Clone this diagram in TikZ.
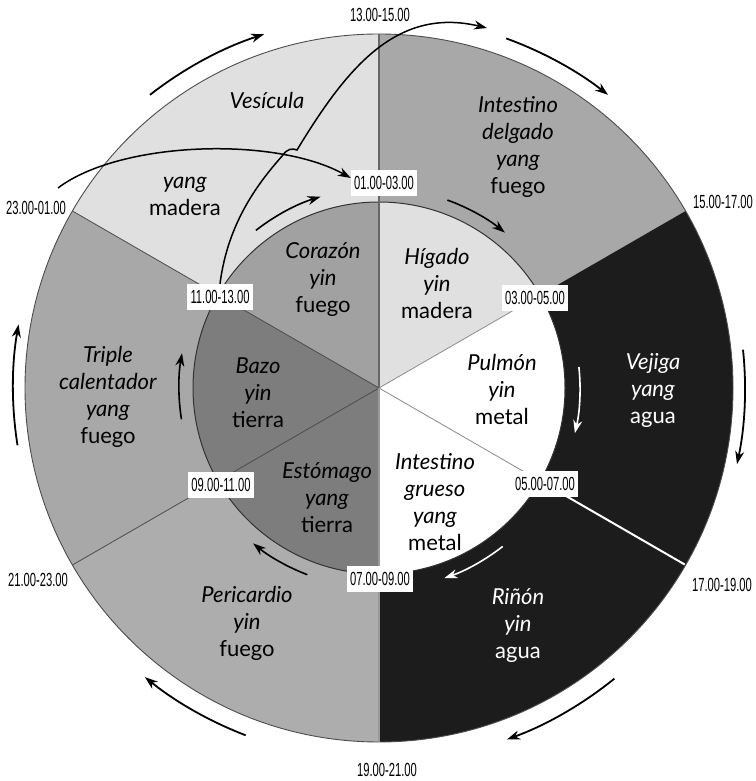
\documentclass[tikz,border=0pt]{standalone}
\usepackage{fontspec}
\setmainfont{Lato}
\newfontfamily\hourfont[FakeStretch=0.59]{Liberation Sans}
\usetikzlibrary{arrows.meta}
\definecolor{palegray}{gray}{0.88}
\definecolor{midgray}{gray}{0.66}
\definecolor{firegray}{gray}{0.68}
\definecolor{heartgray}{gray}{0.63}
\definecolor{earthgray}{gray}{0.49}
\definecolor{watergray}{gray}{0.11}

\begin{document}
\begin{tikzpicture}[
  x=1pt,y=1pt,
  organ/.style={align=center,inner sep=0pt,font=\fontsize{22}{27}\selectfont},
  organw/.style={organ,text=white},
  hour/.style={inner sep=0pt,font=\hourfont\fontsize{19}{19}\selectfont},
  hourbox/.style={hour,fill=white,minimum width=66pt,minimum height=26pt},
  divider/.style={draw=black!70,line width=0.8pt},
  cycle/.style={-{Stealth[length=13pt,width=9pt]},line width=1.8pt},
  cyclew/.style={cycle,draw=white},
  link/.style={-{Stealth[length=13pt,width=9pt]},line width=1.5pt},
]
\fill[white] (0,0) rectangle (755,781);
\useasboundingbox (0,0) rectangle (755,781);
\coordinate (C) at (379,393);

% ---- outer ring ----
\foreach \a/\col in {90/palegray,30/midgray,-30/watergray,-90/watergray,210/firegray,150/midgray}
  \fill[\col] (C) -- ([shift={(\a:354)}]C) arc[start angle=\a,delta angle=60,radius=354] -- cycle;
\draw[black!70,line width=0.9pt] (C) circle[radius=354];

% ---- inner disk ----
\foreach \a/\col in {90/heartgray,30/palegray,-30/white,-90/white,210/earthgray,150/earthgray}
  \fill[\col] (C) -- ([shift={(\a:186)}]C) arc[start angle=\a,delta angle=60,radius=186] -- cycle;
\draw[black!80,line width=1pt] (C) circle[radius=186];

% ---- dividers ----
\draw[divider,draw=black!60,line width=1.3pt] (C) -- ([shift={(90:354)}]C);
\draw[divider] (C) -- ([shift={(150:354)}]C);
\draw[divider] (C) -- ([shift={(210:354)}]C);
\draw[divider,draw=black!40,line width=1.6pt] (C) -- ([shift={(270:354)}]C);
\draw[divider,draw=black!45] (C) -- ([shift={(30:186)}]C);
\draw[divider,draw=black!45] (C) -- ([shift={(-30:186)}]C);
\draw[white,line width=2pt] ([shift={(-30:187)}]C) -- ([shift={(-30:353)}]C);

% ---- flow arrows ----
\foreach \s/\e in {128/108,70/52,249/231}
  \draw[cycle] ([shift={(\s:372)}]C) arc[start angle=\s,end angle=\e,radius=372];
\foreach \s/\e in {6/-12,189/170}
  \draw[cycle] ([shift={(\s:366)}]C) arc[start angle=\s,end angle=\e,radius=366];
\draw[cycle] ([shift={(-51:374)}]C) arc[start angle=-51,end angle=-70,radius=374];
\foreach \s/\e in {128/107,70/51,249/231,189/170}
  \draw[cycle,line width=1.6pt] ([shift={(\s:200)}]C) arc[start angle=\s,end angle=\e,radius=200];
\foreach \s/\e in {6/-13,-52/-71}
  \draw[cyclew,line width=1.6pt] ([shift={(\s:201)}]C) arc[start angle=\s,end angle=\e,radius=201];

% ---- organs ----
\node[organ] (vesicula) at (267,681) {\textit{Vesícula}};
\node[organ] (vesmadera) at (185,585) {\textit{yang}\\madera};
\node[organ] (delgado) at (518,634) {\textit{Intestino}\\\textit{delgado}\\\textit{yang}\\fuego};
\node[organ] (corazon) at (323,501) {\textit{Corazón}\\\textit{yin}\\fuego};
\node[organ] (higado) at (437,498) {\textit{Hígado}\\\textit{yin}\\madera};
\node[organ] (pulmon) at (502,392) {\textit{Pulmón}\\\textit{yin}\\metal};
\node[organw] (vejiga) at (653,391) {\textit{Vejiga}\\\textit{yang}\\agua};
\node[organ] (grueso) at (435,279) {\textit{Intestino}\\\textit{grueso}\\\textit{yang}\\metal};
\node[organw] (rinon) at (518,156) {\textit{Riñón}\\\textit{yin}\\agua};
\node[organ] (pericardio) at (247,158) {\textit{Pericardio}\\\textit{yin}\\fuego};
\node[organ] (estomago) at (327,283) {\textit{Estómago}\\\textit{yang}\\tierra};
\node[organ] (triple) at (108,384) {\textit{Triple}\\\textit{calentador}\\\textit{yang}\\fuego};
\node[organ] (bazo) at (258,388) {\textit{Bazo}\\\textit{yin}\\tierra};

% ---- hours ----
\node[hour] (t1315) at (380,766) {13.00-15.00};
\node[hour] (t1517) at (723,579) {15.00-17.00};
\node[hour] (t1719) at (722,196) {17.00-19.00};
\node[hour] (t1921) at (387,11) {19.00-21.00};
\node[hour] (t2123) at (38,201) {21.00-23.00};
\node[hour] (t2301) at (36,573) {23.00-01.00};
\node[hourbox] (t0103) at (384,598) {01.00-03.00};
\node[hourbox] (t0305) at (535,483) {03.00-05.00};
\node[hourbox] (t0507) at (545,297) {05.00-07.00};
\node[hourbox] (t0709) at (380,202) {07.00-09.00};
\node[hourbox] (t0911) at (221,296) {09.00-11.00};
\node[hourbox] (t1113) at (220,484) {11.00-13.00};

% ---- midnight and noon links ----
\coordinate (nightstart) at (58,593);
\coordinate (hopin) at (283,626);
\coordinate (hopout) at (297,631);
\coordinate (noonend) at (487,753);
\draw[link] (nightstart) .. controls (120,640) and (275,645) .. ([yshift=5pt]t0103.west);
\draw[link] (t1113.north) .. controls (228,560) and (260,600) .. (hopin)
  .. controls (287,632) and (292,633) .. (hopout)
  .. controls (345,710) and (395,775) .. (noonend);
\end{tikzpicture}
\end{document}
